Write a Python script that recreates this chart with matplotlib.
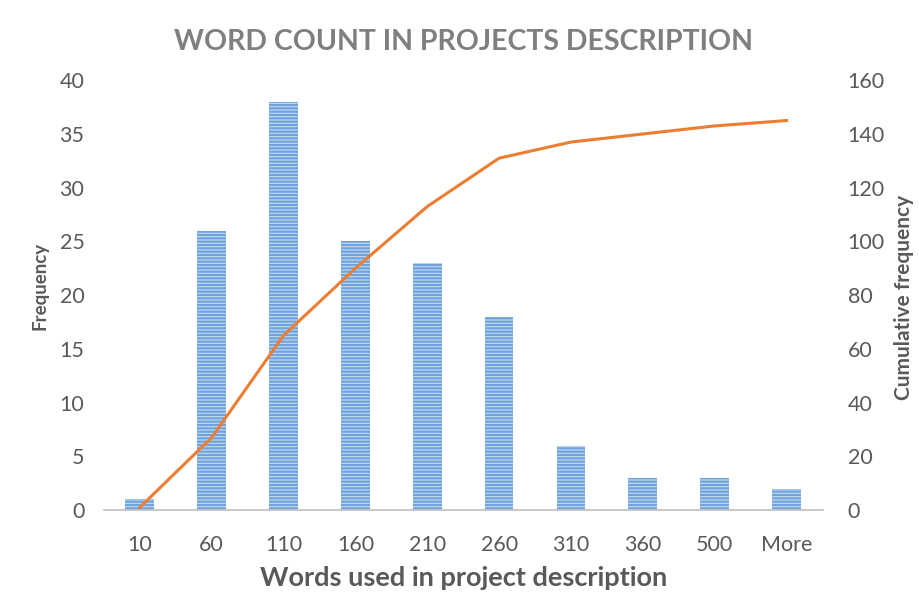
import numpy as np
import matplotlib.pyplot as plt

# datos del histograma
bins = ['10', '60', '110', '160', '210', '260', '310', '360', '500', 'More']
frequency = [1, 26, 38, 25, 23, 18, 6, 3, 3, 2]
cumulative = [1, 27, 65, 90, 113, 131, 137, 140, 143, 145]

plt.rcParams['font.family'] = ['Lato', 'DejaVu Sans']
plt.rcParams['hatch.linewidth'] = 1.6

gray = '#595959'
fig = plt.figure(figsize=(9.19, 6.08), dpi=100)
ax = fig.add_axes([0.113, 0.161, 0.782, 0.707])

x = np.arange(len(bins))
ax.bar(x, frequency, width=0.4, color='#C5DCF2', edgecolor='#6FA3DB',
       hatch='-----', linewidth=0)
ax.set_xlim(-0.5, len(bins) - 0.5)
ax.set_ylim(0, 40)
ax.set_yticks(range(0, 41, 5))
ax.set_xticks(x)
ax.set_xticklabels(bins)

ax2 = ax.twinx()
ax2.plot(x, cumulative, color='#ED7D31', linewidth=2.2)
ax2.set_ylim(0, 160)
ax2.set_yticks(range(0, 161, 20))

for a in (ax, ax2):
    for s in a.spines.values():
        s.set_visible(False)
    a.tick_params(length=0, labelsize=15.5, colors=gray)
ax.spines['bottom'].set_visible(True)
ax.spines['bottom'].set_color('#BFBFBF')
ax.spines['bottom'].set_linewidth(1.2)
ax.tick_params(axis='x', pad=18)
ax.tick_params(axis='y', pad=14)
ax2.tick_params(axis='y', pad=18)

ax.set_title('WORD COUNT IN PROJECTS DESCRIPTION', fontsize=20.5, fontweight='bold',
             color='#7F7F7F', pad=22)
ax.set_xlabel('Words used in project description', fontsize=19.5, fontweight='bold',
              color=gray, labelpad=8)
ax.set_ylabel('Frequency', fontsize=13.5, fontweight='bold', color=gray)
ax2.set_ylabel('Cumulative frequency', fontsize=15, fontweight='bold', color=gray)
# posiciones de las etiquetas de los ejes
ax.yaxis.set_label_coords((49 - 104) / 719, (608 - 286 - 98) / 430)
ax2.yaxis.set_label_coords((895 - 104) / 719, (608 - 297 - 98) / 430)

fig.savefig('out.png', dpi=100)
